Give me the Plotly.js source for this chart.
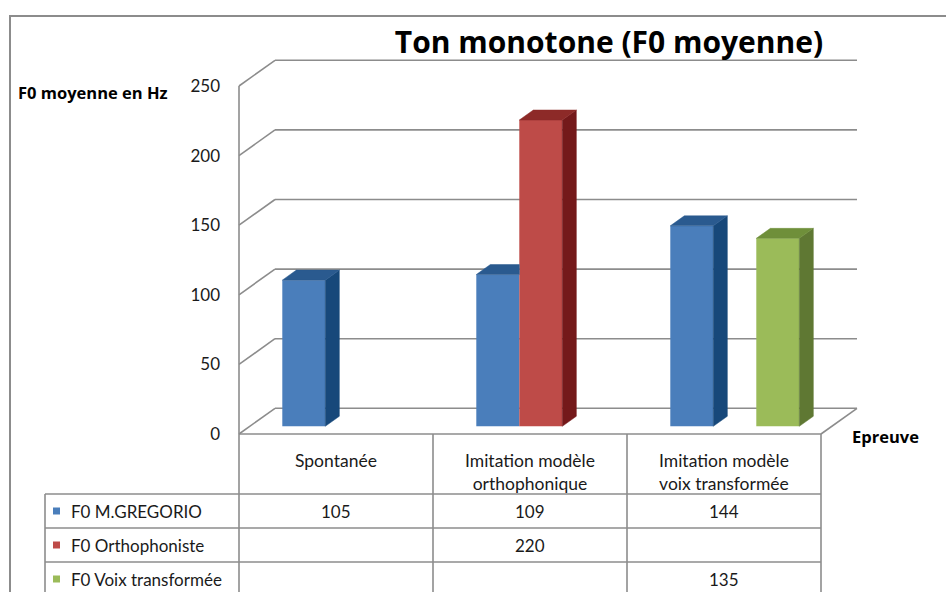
<!DOCTYPE html>
<html><head><meta charset="utf-8">
<script src="https://cdn.plot.ly/plotly-3.0.1.min.js"></script>
<style>html,body{margin:0;padding:0;background:#fff;} #chart{width:946px;height:592px;}</style>
</head><body><div id="chart"></div>
<script>
// ---- data ----
const categories = ['Spontanée', 'Imitation modèle<br>orthophonique', 'Imitation modèle<br>voix transformée'];
const seriesNames = ['F0 M.GREGORIO', 'F0 Orthophoniste', 'F0 Voix transformée'];
const f0Gregorio = [105, 109, 144];
const f0Orthophoniste = [null, 220, null];
const f0VoixTransformee = [null, null, 135];
const yTickVals = [0, 50, 100, 150, 200, 250];
const yTickText = ['0', '50', '100', '150', '200', '250'];
const chartTitle = 'Ton monotone (F0 moyenne)';
const yTitle = 'F0 moyenne en Hz';
const xTitle = 'Epreuve';

// ---- styles ----
const seriesValues = [f0Gregorio, f0Orthophoniste, f0VoixTransformee];
const frontColors = ['#4A7EBB', '#BE4B48', '#9BBB59'];
const sideColors = ['#17487A', '#74191A', '#5F7833'];
const topColors = ['#2A5A8F', '#8D2A28', '#6F8F3A'];
const gridColor = '#8C8C8C';
const FONT = 'Lato, "Open Sans", sans-serif';
const BOLDFONT = '"Open Sans", Lato, sans-serif';
const textColor = '#1a1a1a';

// ---- geometry (pixels -> axis units) ----
const PL = 233, PR = 862, PT = 56, PB = 440;
const COL = 194;          // px per category
const X0PX = 239;         // px position of x = -0.5
const XMIN = -0.5 - (X0PX - PL) / COL, XMAX = -0.5 + (PR - X0PX) / COL;
const YPX = 1.392, Y0PX = 434;
const YMIN = -(PB - Y0PX) / YPX, YMAX = (Y0PX - PT) / YPX;
const DX = 36 / COL, DY = 25.7 / YPX;   // depth of the 3D box
const T0 = 0.3, TD = 0.39;               // bar front depth fraction and bar depth
const SLOT = 43 / COL;
const BASE = T0 * DY, FX = T0 * DX, SDX = TD * DX, SDY = TD * DY;

function px2paperX(px) { return (px - PL) / (PR - PL); }
function px2paperY(py) { return (PB - py) / (PB - PT); }
function xu2paper(xu) { return (xu - XMIN) / (XMAX - XMIN); }

const traces = [];
const nS = seriesValues.length;
// front faces as real bars
seriesValues.forEach((vals, s) => {
  traces.push({
    type: 'bar', name: seriesNames[s],
    x: categories.map((c, i) => i + (s - 1) * SLOT + FX),
    y: vals, base: BASE, width: SLOT,
    marker: { color: frontColors[s], line: { width: 0 } },
    hoverinfo: 'skip', showlegend: false
  });
});
// side + top faces
categories.forEach((c, i) => {
  seriesValues.forEach((vals, s) => {
    const v = vals[i];
    if (v === null || v === undefined) return;
    const xl = i + (s - 1) * SLOT + FX - SLOT / 2, xr = xl + SLOT;
    const top = BASE + v;
    const nb = s + 1 < nS ? seriesValues[s + 1][i] : null;
    const covered = nb !== null && nb !== undefined && (BASE + nb) >= top + SDY;
    if (!covered) {
      traces.push({
        type: 'scatter', mode: 'lines', fill: 'toself', fillcolor: sideColors[s],
        x: [xr, xr + SDX, xr + SDX, xr, xr], y: [BASE, BASE + SDY, top + SDY, top, BASE],
        line: { width: 0.5, color: sideColors[s] }, hoverinfo: 'skip', showlegend: false
      });
    }
    const topX = covered ? [xl, xr, xr, xl + SDX, xl] : [xl, xr, xr + SDX, xl + SDX, xl];
    traces.push({
      type: 'scatter', mode: 'lines', fill: 'toself', fillcolor: topColors[s],
      x: topX, y: [top, top, top + SDY, top + SDY, top],
      line: { width: 0.5, color: topColors[s] }, hoverinfo: 'skip', showlegend: false
    });
  });
});

// ---- 3D frame (walls / gridlines) ----
const shapes = [];
const gl = { color: gridColor, width: 1.6 };
const yTop = yTickVals[yTickVals.length - 1];
const xFirst = -0.5, xLast = categories.length - 0.5;
yTickVals.forEach(v => {
  shapes.push({ type: 'line', xref: 'x', yref: 'y', x0: xFirst, y0: v, x1: xFirst + DX, y1: v + DY, line: gl, layer: 'below' });
  shapes.push({ type: 'line', xref: 'x', yref: 'y', x0: xFirst + DX, y0: v + DY, x1: xLast + DX, y1: v + DY, line: gl, layer: 'below' });
});
shapes.push({ type: 'line', xref: 'x', yref: 'y', x0: xFirst, y0: 0, x1: xFirst, y1: yTop, line: gl, layer: 'below' });
shapes.push({ type: 'line', xref: 'x', yref: 'y', x0: xFirst, y0: 0, x1: xLast, y1: 0, line: gl, layer: 'below' });
shapes.push({ type: 'line', xref: 'x', yref: 'y', x0: xLast, y0: 0, x1: xLast + DX, y1: DY, line: gl, layer: 'below' });

// ---- outer border ----
shapes.push({ type: 'rect', xref: 'paper', yref: 'paper', x0: px2paperX(10), x1: px2paperX(1000), y0: px2paperY(16), y1: px2paperY(700),
  line: { color: gridColor, width: 2 }, fillcolor: 'rgba(0,0,0,0)', layer: 'below' });

// ---- data table ----
const rowTops = [434, 494, 528, 562, 596];
const tl = { color: gridColor, width: 1.6 };
for (let k = 0; k <= categories.length; k++) {
  const xp = xu2paper(k - 0.5);
  shapes.push({ type: 'line', xref: 'paper', yref: 'paper', x0: xp, x1: xp, y0: px2paperY(434), y1: px2paperY(610), line: tl });
}
shapes.push({ type: 'line', xref: 'paper', yref: 'paper', x0: xu2paper(-1.5), x1: xu2paper(-1.5), y0: px2paperY(494), y1: px2paperY(610), line: tl });
for (let r = 1; r < rowTops.length; r++) {
  shapes.push({ type: 'line', xref: 'paper', yref: 'paper', x0: xu2paper(-1.5), x1: xu2paper(xLast), y0: px2paperY(rowTops[r]), y1: px2paperY(rowTops[r]), line: tl });
}

const annotations = [];
categories.forEach((c, i) => {
  annotations.push({ xref: 'paper', yref: 'paper', x: xu2paper(i), y: px2paperY(448), xanchor: 'center', yanchor: 'top',
    text: c, showarrow: false, font: { family: FONT, size: 17.5, color: textColor } });
});
seriesValues.forEach((vals, s) => {
  const rc = (rowTops[s + 1] + rowTops[s + 2]) / 2;
  shapes.push({ type: 'rect', xref: 'paper', yref: 'paper', x0: px2paperX(53), x1: px2paperX(60), y0: px2paperY(rc + 3.5), y1: px2paperY(rc - 3.5),
    line: { width: 0 }, fillcolor: frontColors[s] });
  annotations.push({ xref: 'paper', yref: 'paper', x: px2paperX(69), y: px2paperY(rc), xanchor: 'left', yanchor: 'middle',
    text: seriesNames[s], showarrow: false, font: { family: FONT, size: 17, color: textColor } });
  vals.forEach((v, i) => {
    if (v === null || v === undefined) return;
    annotations.push({ xref: 'paper', yref: 'paper', x: xu2paper(i), y: px2paperY(rc), xanchor: 'center', yanchor: 'middle',
      text: String(v), showarrow: false, font: { family: FONT, size: 17, color: textColor } });
  });
});
annotations.push({ xref: 'paper', yref: 'paper', x: px2paperX(16), y: px2paperY(93), xanchor: 'left', yanchor: 'middle',
  text: '<b>' + yTitle + '</b>', showarrow: false, font: { family: BOLDFONT, size: 16.5, color: '#000' } });
annotations.push({ xref: 'paper', yref: 'paper', x: px2paperX(850), y: px2paperY(436), xanchor: 'left', yanchor: 'middle',
  text: '<b>' + xTitle + '</b>', showarrow: false, font: { family: BOLDFONT, size: 16.5, color: '#000' } });

const layout = {
  width: 946, height: 592,
  margin: { l: PL, r: 946 - PR, t: PT, b: 592 - PB, pad: 0 },
  paper_bgcolor: '#fff', plot_bgcolor: 'rgba(0,0,0,0)',
  barmode: 'overlay', showlegend: false,
  title: { text: '<b>' + chartTitle + '</b>', x: 609 / 946, xanchor: 'center', y: 1 - 42 / 592, yanchor: 'middle',
    xref: 'container', yref: 'container', font: { family: BOLDFONT, size: 30, color: '#000' } },
  xaxis: { range: [XMIN, XMAX], visible: false, fixedrange: true },
  yaxis: { range: [YMIN, YMAX], tickvals: yTickVals, ticktext: yTickText, showgrid: false, zeroline: false, showline: false,
    ticks: '', ticklabelstandoff: 12, tickfont: { family: FONT, size: 17, color: textColor }, fixedrange: true },
  shapes: shapes, annotations: annotations
};
Plotly.newPlot('chart', traces, layout, { displayModeBar: false, staticPlot: true });
</script></body></html>
